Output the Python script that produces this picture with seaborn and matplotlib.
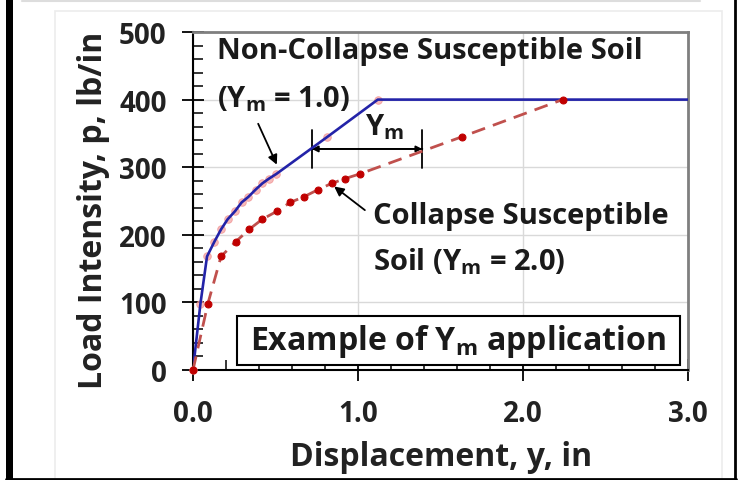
import matplotlib
matplotlib.use("Agg")
import matplotlib.pyplot as plt
import seaborn as sns
from matplotlib.patches import Rectangle
from matplotlib.lines import Line2D
from matplotlib.ticker import MultipleLocator

# p-y curves
collapse_y = [0, 0.09, 0.17, 0.26, 0.34, 0.42, 0.51, 0.59, 0.67, 0.76, 0.84, 0.92, 1.01, 1.63, 2.24]
collapse_p = [0, 98, 168, 190, 208, 223, 235, 248, 256, 267, 276, 283, 290, 345, 400]

noncollapse_y = [0, 0.045, 0.085, 0.13, 0.17, 0.21, 0.255, 0.295, 0.335, 0.38, 0.42, 0.46, 0.505, 0.815, 1.12, 3.0]
noncollapse_p = [0, 98, 168, 190, 208, 223, 235, 248, 256, 267, 276, 283, 290, 345, 400, 400]

x_ticks = [0.0, 1.0, 2.0, 3.0]
x_tick_labels = ["0.0", "1.0", "2.0", "3.0"]
y_ticks = [0, 100, 200, 300, 400, 500]

sns.set_theme(style="white")
plt.rcParams["font.family"] = ["Open Sans", "DejaVu Sans"]
plt.rcParams["font.weight"] = "bold"
plt.rcParams["mathtext.fontset"] = "custom"
plt.rcParams["mathtext.rm"] = "Open Sans:bold"
plt.rcParams["mathtext.it"] = "Open Sans:bold"
plt.rcParams["mathtext.bf"] = "Open Sans:bold"

fig = plt.figure(figsize=(7.38, 4.81), dpi=100)
fig.patch.set_facecolor("white")

# outer frame of the screenshot
fig.patches.append(Rectangle((55 / 738, 0), 667 / 738, 1 - 12 / 481, transform=fig.transFigure,
                             fill=False, edgecolor="#ececec", lw=1.2))
fig.lines.append(Line2D([22 / 738, 700 / 738], [1 - 1.5 / 481] * 2, transform=fig.transFigure,
                        color="#dddddd", lw=1.5))
fig.patches.append(Rectangle((6 / 738, 0), 7 / 738, 1, transform=fig.transFigure,
                             facecolor="black", edgecolor="none"))
fig.lines.append(Line2D([734.5 / 738] * 2, [0, 1], transform=fig.transFigure, color="black", lw=2))
fig.lines.append(Line2D([6 / 738, 736 / 738], [1.5 / 481] * 2, transform=fig.transFigure, color="black", lw=2))

ax = fig.add_axes([193 / 738, 1 - 371 / 481, 495 / 738, 338 / 481])

# non-collapse curve: pale markers under a blue line
sns.scatterplot(x=noncollapse_y[:-1], y=noncollapse_p[:-1], ax=ax, color="#f4a3a3", s=30,
                edgecolor="#f08a8a", linewidth=0.6, alpha=0.75, zorder=3, clip_on=False)
sns.lineplot(x=noncollapse_y, y=noncollapse_p, ax=ax, sort=False, color="#2323a8", lw=1.9, zorder=4)

# collapse curve: dashed red with dots
sns.lineplot(x=collapse_y, y=collapse_p, ax=ax, sort=False, color="#c0504d", lw=2,
             marker="o", ms=5, mfc="#c00000", mec="#c00000", zorder=5, clip_on=False)
ax.lines[-1].set_dashes((5, 3))

ax.set_xlim(0, 3)
ax.set_ylim(0, 500)
ax.set_xticks(x_ticks)
ax.set_xticklabels(x_tick_labels)
ax.set_yticks(y_ticks)
ax.xaxis.set_minor_locator(MultipleLocator(0.2))
ax.yaxis.set_minor_locator(MultipleLocator(20))
ax.tick_params(which="major", direction="inout", length=16, width=1.3, color="black",
               labelsize=20, bottom=True, left=True)
ax.tick_params(axis="x", which="major", pad=13)
ax.tick_params(axis="y", which="major", pad=11)
ax.tick_params(which="minor", direction="in", length=7, width=1.1, color="black", bottom=True, left=True)
for lab in ax.get_xticklabels() + ax.get_yticklabels():
    lab.set_fontweight("bold")
    lab.set_color("#222222")

ax.grid(True, which="major", color="#d9d9d9", lw=1)
ax.set_axisbelow(True)
for side in ["left", "bottom"]:
    ax.spines[side].set_color("black")
    ax.spines[side].set_linewidth(1.5)
for side in ["top", "right"]:
    ax.spines[side].set_color("#7f7f7f")
    ax.spines[side].set_linewidth(2)

ax.set_xlabel("Displacement, y, in", fontsize=23, fontweight="bold", color="#222222", va="center")
ax.set_ylabel("Load Intensity, p, lb/in", fontsize=23, fontweight="bold", color="#222222", va="center")
ax.xaxis.set_label_coords(0.501, -0.257)
ax.yaxis.set_label_coords(-0.2, 0.476)

txt = dict(fontsize=21, fontweight="bold", color="#1a1a1a")
ax.text(0.145, 472, "Non-Collapse Susceptible Soil", ha="left", va="center", **txt)
ax.text(0.145, 402, "(Y$_{m}$ = 1.0)", ha="left", va="center", **txt)
ax.annotate("", xy=(0.515, 300), xytext=(0.388, 368),
            arrowprops=dict(arrowstyle="-|>", color="black", lw=1.3, mutation_scale=14))

ax.text(1.04, 360, "Y$_{m}$", ha="left", va="center", **txt)
ax.annotate("", xy=(0.72, 327), xytext=(1.39, 327),
            arrowprops=dict(arrowstyle="<|-|>", color="black", lw=1.3, mutation_scale=9,
                            shrinkA=0, shrinkB=0))
ax.annotate("", xy=(0.72, 327), xytext=(1.39, 327),
            arrowprops=dict(arrowstyle="|-|", color="black", lw=1.3, mutation_scale=14,
                            shrinkA=0, shrinkB=0))

ax.text(1.09, 228, "Collapse Susceptible", ha="left", va="center", **txt)
ax.text(1.09, 161, "Soil (Y$_{m}$ = 2.0)", ha="left", va="center", **txt)
ax.annotate("", xy=(0.842, 274), xytext=(1.055, 234),
            arrowprops=dict(arrowstyle="-|>", color="black", lw=1.3, mutation_scale=14))

ax.add_patch(Rectangle((0.267, 7.4), 2.685, 72.6, fill=True, facecolor="white",
                       edgecolor="black", lw=1.5, zorder=6))
ax.text(1.606, 44, "Example of Y$_{m}$ application", ha="center", va="center", zorder=7,
        fontsize=23, fontweight="bold", color="#1a1a1a")

fig.savefig("out.png", dpi=100)
